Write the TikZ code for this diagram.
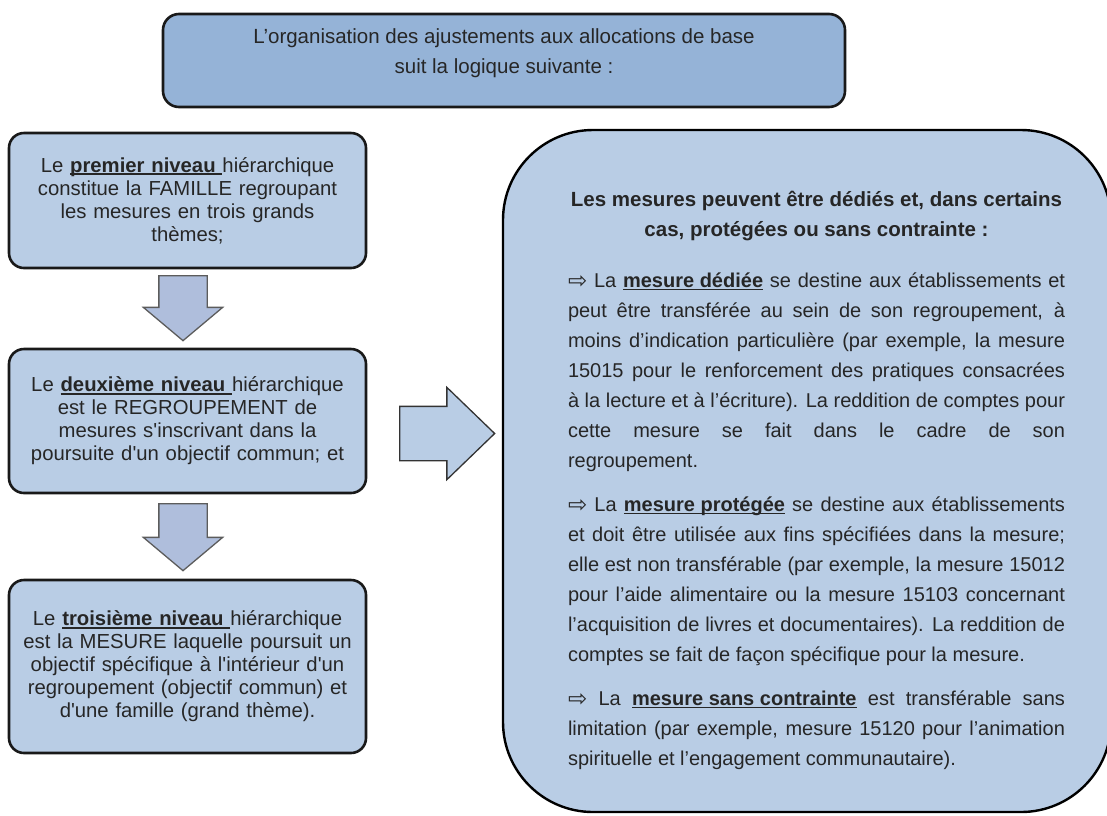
\documentclass[tikz,border=0pt]{standalone}
\usepackage{fontspec}
\setmainfont{Liberation Sans}
\newfontfamily\arrowfont{DejaVu Sans}
\usepackage{xcolor}
\usetikzlibrary{shapes.arrows}
\definecolor{introblue}{HTML}{95B3D7}
\definecolor{levelblue}{HTML}{B9CDE5}
\definecolor{arrowblue}{HTML}{AFBEDC}
\definecolor{arrowgray}{HTML}{5C5C5C}
\definecolor{textgray}{HTML}{262626}
\newcommand{\keyword}[1]{\setbox0\hbox{\textbf{#1}}\rlap{\rule[-2.8pt]{\wd0}{1.5pt}}\box0\relax}
\newcommand{\pointer}{{\arrowfont\fontsize{23pt}{23pt}\selectfont\raisebox{-0.5pt}{⇨}}}

\begin{document}
\begin{tikzpicture}[x=1pt,y=-1pt,
	introbox/.style={draw=black!90, line width=2.6pt, rounded corners=16pt, fill=introblue, minimum width=682pt, minimum height=93pt},
	levelbox/.style={draw=black!90, line width=2.6pt, rounded corners=15pt, fill=levelblue, minimum width=357pt, text width=345pt, align=center, text=textgray, font=\fontsize{20.3pt}{23pt}\selectfont},
	bigbox/.style={draw=black, line width=2.4pt, rounded corners=90pt, fill=levelblue, minimum width=608pt, minimum height=682pt},
	downarrow/.style={single arrow, anchor=tail, rotate=-90, draw=arrowgray, line width=1.3pt, fill=arrowblue, inner xsep=0pt, inner ysep=23.5pt, single arrow head extend=15.5pt, single arrow tip angle=100, single arrow head indent=0pt},
	rightarrow/.style={single arrow, anchor=tail, draw=black!80, line width=1.3pt, fill=levelblue, inner xsep=0pt, inner ysep=26.5pt, single arrow head extend=19pt, single arrow tip angle=88, single arrow head indent=0pt, minimum height=95pt},
	boxtext/.style={align=center, text=textgray, font=\fontsize{20pt}{30pt}\selectfont}]
	\useasboundingbox (0,0) rectangle (1107,815);
	% intro
	\node	(intro) at (504,60.5) [introbox] {};
	\node	(introtext) at ([yshift=7.5pt]intro.center) [boxtext, font=\fontsize{20.5pt}{30pt}\selectfont] {L’organisation des ajustements aux allocations de base\\suit la logique suivante :};
	% the three levels
	\node	(lvlone) at (187.5,200.5) [levelbox, minimum height=135pt] {Le \keyword{premier niveau\ }hiérarchique\\constitue la FAMILLE regroupant\\les mesures en trois grands\\thèmes;};
	\node	(lvltwo) at (187.5,421) [levelbox, minimum height=144pt] {Le \keyword{deuxième niveau\ }hiérarchique\\est le REGROUPEMENT de\\mesures s\textquotesingle inscrivant dans la\\poursuite d\textquotesingle un objectif commun; et};
	\node	(lvlthree) at (187.5,666.5) [levelbox, minimum height=173pt] {Le \keyword{troisième niveau\ }hiérarchique\\est la MESURE laquelle poursuit un\\objectif spécifique à l\textquotesingle intérieur d\textquotesingle un\\regroupement (objectif commun) et\\d\textquotesingle une famille (grand thème).};
	\node	(downone) at (183,275) [downarrow, minimum height=65pt] {};
	\node	(downtwo) at (183,503) [downarrow, minimum height=67pt] {};
	% the measures
	\node	(toright) at (399,433.5) [rightarrow] {};
	\node	(mesures) at (807,471) [bigbox] {};
	\node	(mesurestext) at ([xshift=9.5pt,yshift=-9.5pt]mesures.center) [boxtext, align=justify, text width=497pt] {\parindent=0pt\hyphenpenalty=10000
		{\centering\bfseries\fontsize{20.5pt}{30pt}\selectfont Les mesures peuvent être dédiés et, dans certains\\cas, protégées ou sans contrainte :\par}
		\vspace{21pt}
		\pointer{} La \keyword{mesure dédiée} se destine aux établissements et\linebreak
		peut être transférée au sein de son regroupement, à\linebreak
		moins d’indication particulière (par exemple, la mesure\linebreak
		15015 pour le renforcement des pratiques consacrées\linebreak
		à la lecture et à l’écriture). La reddition de comptes pour\linebreak
		cette mesure se fait dans le cadre de son\linebreak
		regroupement.\par
		\vspace{14pt}
		\pointer{} La \keyword{mesure protégée} se destine aux établissements\linebreak
		et doit être utilisée aux fins spécifiées dans la mesure;\linebreak
		elle est non transférable (par exemple, la mesure 15012\linebreak
		pour l’aide alimentaire ou la mesure 15103 concernant\linebreak
		l’acquisition de livres et documentaires). La reddition de\linebreak
		comptes se fait de façon spécifique pour la mesure.\par
		\vspace{14pt}
		\pointer{} La \keyword{mesure sans contrainte} est transférable sans\linebreak
		limitation (par exemple, mesure 15120 pour l’animation\linebreak
		spirituelle et l’engagement communautaire).\par};
\end{tikzpicture}
\end{document}
